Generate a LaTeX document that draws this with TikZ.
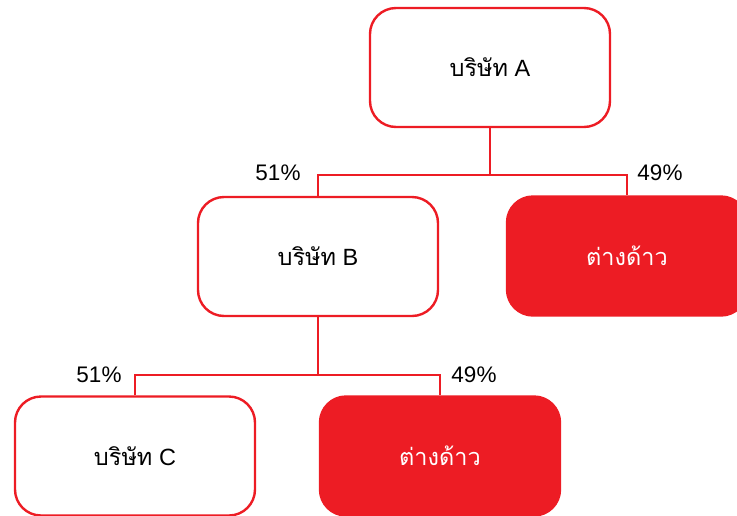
\documentclass[tikz,border=0pt]{standalone}
\usepackage{fontspec}
\setmainfont{Liberation Sans}
\newfontfamily\thaifont[Script=Thai]{Loma}
\definecolor{cred}{HTML}{ED1C24}
\tikzset{
  company/.style={draw=cred, line width=2.4pt, rounded corners=26pt, fill=white,
    minimum width=240pt, minimum height=119pt, inner sep=0pt, font=\fontsize{23.5}{26}\selectfont},
  foreign/.style={company, fill=cred, text=white},
  pct/.style={inner sep=0pt, font=\fontsize{22.5}{26}\selectfont},
  link/.style={draw=cred, line width=2.4pt}
}
\begin{document}
\begin{tikzpicture}[x=1pt, y=-1pt]
\useasboundingbox (0,0) rectangle (737,515);
\clip (0,0) rectangle (737,515);
\node[company] (A) at (490,67.5) {{\thaifont บริษัท} A};
\node[company] (B) at (318,256.5) {{\thaifont บริษัท} B};
\node[foreign] (F1) at (627,256) {\thaifont ต่างด้าว};
\node[company] (C) at (135,456) {{\thaifont บริษัท} C};
\node[foreign] (F2) at (440,456) {\thaifont ต่างด้าว};
\coordinate (j1) at (490,175);
\coordinate (j2) at (318,375);
\draw[link] (A.south) -- (j1);
\draw[link] (B.north) |- (j1) -| (F1.north);
\draw[link] (B.south) -- (j2);
\draw[link] (C.north) |- (j2) -| (F2.north);
\node[pct] (p1) at (278,173) {51\%};
\node[pct] (p2) at (660,173) {49\%};
\node[pct] (p3) at (99,375) {51\%};
\node[pct] (p4) at (474,375) {49\%};
\end{tikzpicture}
\end{document}
